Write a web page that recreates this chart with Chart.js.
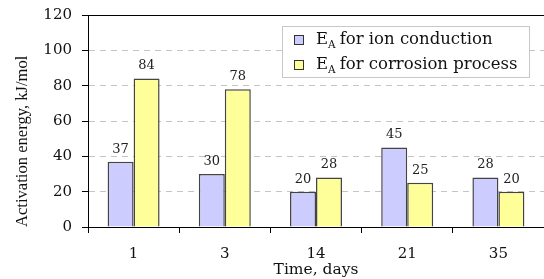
<!DOCTYPE html>
<html lang="en">
<head>
    <meta charset="UTF-8">
    <title>Activation energy</title>
    <script src="https://cdn.jsdelivr.net/npm/chart.js"></script>
    <style>
        html, body { margin: 0; padding: 0; background: #fff; }
        .chart-container { width: 544px; height: 279px; position: relative; }
    </style>
</head>
<body>
    <div class="chart-container">
        <canvas id="myChart"></canvas>
    </div>

    <script>
        // Data
        const days = ['1', '3', '14', '21', '35'];
        const ionConduction = [37, 30, 20, 45, 28];
        const corrosionProcess = [84, 78, 28, 25, 20];
        const seriesNames = ['for ion conduction', 'for corrosion process'];
        const yTicks = [0, 20, 40, 60, 80, 100, 120];

        const serif = "'DejaVu Serif', serif";

        // legend box with E subscript A
        const legendBox = {
            id: 'legendBox',
            afterDraw(chart) {
                const ctx = chart.ctx;
                const x = 282, y = 26, w = 247, h = 51;
                ctx.save();
                ctx.fillStyle = '#fff';
                ctx.fillRect(x, y, w, h);
                ctx.strokeStyle = '#c8c8c8';
                ctx.lineWidth = 1;
                ctx.strokeRect(x + 0.5, y + 0.5, w, h);
                chart.data.datasets.forEach((ds, i) => {
                    const cy = y + 14 + i * 25;
                    ctx.fillStyle = ds.backgroundColor;
                    ctx.fillRect(294.5, cy - 4.5, 9, 9);
                    ctx.strokeStyle = '#333';
                    ctx.strokeRect(294.5, cy - 4.5, 9, 9);
                    ctx.fillStyle = '#111';
                    ctx.textBaseline = 'middle';
                    ctx.textAlign = 'left';
                    ctx.font = '16.5px ' + serif;
                    ctx.fillText('E', 316, cy);
                    let tx = 316 + ctx.measureText('E').width;
                    ctx.font = '10.5px ' + serif;
                    ctx.fillText('A', tx, cy + 5);
                    tx += ctx.measureText('A').width + 4;
                    ctx.font = '16.5px ' + serif;
                    ctx.fillText(seriesNames[i], tx, cy);
                });
                ctx.restore();
            }
        };

        // value labels above the bars
        const valueLabels = {
            id: 'valueLabels',
            afterDatasetsDraw(chart) {
                const ctx = chart.ctx;
                ctx.save();
                ctx.font = '13px ' + serif;
                ctx.fillStyle = '#222';
                ctx.textAlign = 'center';
                ctx.textBaseline = 'bottom';
                chart.data.datasets.forEach((ds, i) => {
                    chart.getDatasetMeta(i).data.forEach((bar, j) => {
                        ctx.fillText(ds.data[j], bar.x, bar.y - 6);
                    });
                });
                ctx.restore();
            }
        };

        const ctx = document.getElementById('myChart').getContext('2d');
        new Chart(ctx, {
            type: 'bar',
            data: {
                labels: days,
                datasets: [{
                    label: 'EA ' + seriesNames[0],
                    data: ionConduction,
                    backgroundColor: '#ccccff',
                    borderColor: '#444444',
                    borderWidth: 1.5,
                    borderSkipped: 'bottom'
                }, {
                    label: 'EA ' + seriesNames[1],
                    data: corrosionProcess,
                    backgroundColor: '#ffff99',
                    borderColor: '#444444',
                    borderWidth: 1.5,
                    borderSkipped: 'bottom'
                }]
            },
            options: {
                responsive: true,
                maintainAspectRatio: false,
                animation: false,
                layout: { padding: { top: 15, right: 0, left: 0, bottom: 0 } },
                datasets: {
                    bar: { categoryPercentage: 0.57, barPercentage: 1.0 }
                },
                plugins: {
                    legend: { display: false },
                    tooltip: { enabled: false }
                },
                scales: {
                    x: {
                        offset: true,
                        grid: {
                            offset: true,
                            drawOnChartArea: false,
                            tickLength: 6,
                            tickColor: '#000'
                        },
                        border: { color: '#000', width: 1 },
                        ticks: {
                            font: { family: serif, size: 15 },
                            color: '#111',
                            padding: 12
                        },
                        title: {
                            display: true,
                            text: 'Time, days',
                            font: { family: serif, size: 15.5 },
                            color: '#111',
                            padding: { top: 0, bottom: 0 }
                        },
                        afterFit(scale) { scale.height = 52; }
                    },
                    y: {
                        min: 0,
                        max: 120,
                        afterBuildTicks(scale) {
                            scale.ticks = yTicks.map(v => ({ value: v }));
                        },
                        grid: {
                            color: c => c.tick && c.tick.value === 120 ? '#000' : '#c4c4c4',
                            tickColor: '#000',
                            tickLength: 6,
                            tickBorderDash: []
                        },
                        border: {
                            color: '#000',
                            width: 1,
                            dash: c => c.tick && c.tick.value === 120 ? [] : [6, 5]
                        },
                        ticks: {
                            font: { family: serif, size: 15 },
                            color: '#111',
                            padding: 10
                        },
                        title: {
                            display: true,
                            text: 'Activation energy, kJ/mol',
                            align: 'start',
                            font: { family: "'Liberation Serif', serif", size: 16.6 },
                            color: '#111',
                            padding: { top: 13, bottom: 0 }
                        },
                        afterFit(scale) {
                            scale.width = 88;
                            scale.paddingTop = 0;
                            scale.paddingBottom = 0;
                        }
                    }
                }
            },
            plugins: [valueLabels, legendBox]
        });
    </script>
</body>
</html>
